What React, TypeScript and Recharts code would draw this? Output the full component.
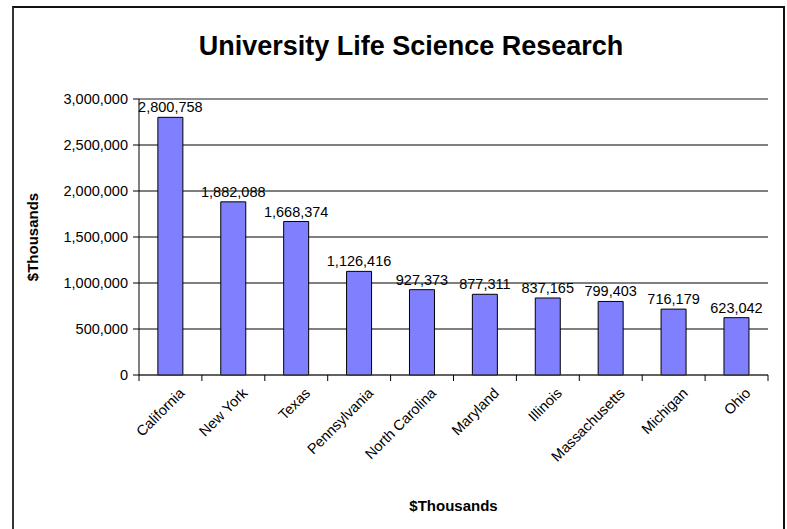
import React from "react";
import {
  BarChart,
  Bar,
  XAxis,
  YAxis,
  CartesianGrid,
  LabelList,
  ReferenceLine,
  Label,
} from "recharts";

const states = [
  "California",
  "New York",
  "Texas",
  "Pennsylvania",
  "North Carolina",
  "Maryland",
  "Illinois",
  "Massachusetts",
  "Michigan",
  "Ohio",
];
const funding = [
  2800758, 1882088, 1668374, 1126416, 927373, 877311, 837165, 799403, 716179,
  623042,
];
const yTicks = [0, 500000, 1000000, 1500000, 2000000, 2500000, 3000000];

const data = states.map((s, i) => ({ state: s, value: funding[i] }));

const FONT = "Arial, 'Liberation Sans', sans-serif";
const fmt = (v: number) => v.toLocaleString("en-US");

function StateTick(props: any) {
  const { x, y, payload, index, visibleTicksCount } = props;
  const half = payload.offset || 0;
  const last = index === visibleTicksCount - 1;
  const ax = x + 15;
  const ay = y + 11;
  return (
    <g>
      <line x1={x - half} x2={x - half} y1={y - 8} y2={y - 2} stroke="#000" />
      {last && (
        <line x1={x + half} x2={x + half} y1={y - 8} y2={y - 2} stroke="#000" />
      )}
      <text
        x={ax}
        y={ay}
        transform={`rotate(-45, ${ax}, ${ay})`}
        textAnchor="end"
        fontSize={14.5}
        fontFamily={FONT}
        fill="#000"
      >
        {payload.value}
      </text>
    </g>
  );
}

function YTitle(props: any) {
  const { viewBox } = props;
  const cy = viewBox.y + viewBox.height / 2;
  return (
    <text
      x={38}
      y={cy}
      transform={`rotate(-90, 38, ${cy})`}
      textAnchor="middle"
      fontSize={15}
      fontWeight="bold"
      fontFamily={FONT}
      fill="#000"
    >
      $Thousands
    </text>
  );
}

export default function App() {
  return (
    <div
      style={{
        position: "absolute",
        left: 0,
        top: 0,
        width: 787,
        height: 529,
        background: "#fff",
        overflow: "hidden",
        fontFamily: FONT,
      }}
    >
      <div
        style={{
          position: "absolute",
          left: 12,
          top: 6,
          width: 769,
          height: 540,
          borderLeft: "2px solid #333",
          borderTop: "2px solid #111",
          borderRight: "2px solid #111",
        }}
      />
      <div
        style={{
          position: "absolute",
          left: 0,
          top: 31,
          width: 822,
          textAlign: "center",
          fontSize: 27,
          fontWeight: "bold",
          color: "#000",
        }}
      >
        University Life Science Research
      </div>
      <div style={{ position: "absolute", left: 0, top: 0 }}>
        <BarChart
          width={787}
          height={529}
          data={data}
          margin={{ top: 99, right: 19, left: 0, bottom: 0 }}
          barCategoryGap="30%"
        >
          <CartesianGrid vertical={false} stroke="#000" strokeOpacity={1} />
          <ReferenceLine y={3000000} stroke="#999" ifOverflow="extendDomain" />
          <XAxis
            dataKey="state"
            height={154}
            interval={0}
            axisLine={{ stroke: "#444" }}
            tickLine={false}
            tick={<StateTick />}
          >
            <Label
              value="$Thousands"
              position="insideBottom"
              offset={18}
              fontSize={15}
              fontWeight="bold"
              fontFamily={FONT}
              fill="#000"
            />
          </XAxis>
          <YAxis
            yAxisId={0}
            width={139}
            domain={[0, 3000000]}
            ticks={yTicks}
            tickFormatter={fmt}
            axisLine={{ stroke: "#000" }}
            tickLine={{ stroke: "#000" }}
            tickSize={6}
            tickMargin={5}
            tick={{ fontSize: 14.5, fontFamily: FONT, fill: "#000" }}
          >
            <Label content={<YTitle />} />
          </YAxis>
          <YAxis
            yAxisId="r"
            orientation="right"
            width={0}
            tick={false}
            tickLine={false}
            axisLine={{ stroke: "#999" }}
          />
          <Bar
            dataKey="value"
            fill="#8080FF"
            stroke="#000"
            strokeWidth={1}
            isAnimationActive={false}
          >
            <LabelList
              dataKey="value"
              position="top"
              offset={5}
              formatter={(v: any) => fmt(Number(v))}
              fontSize={14.5}
              fontFamily={FONT}
              fill="#000"
            />
          </Bar>
        </BarChart>
      </div>
    </div>
  );
}
